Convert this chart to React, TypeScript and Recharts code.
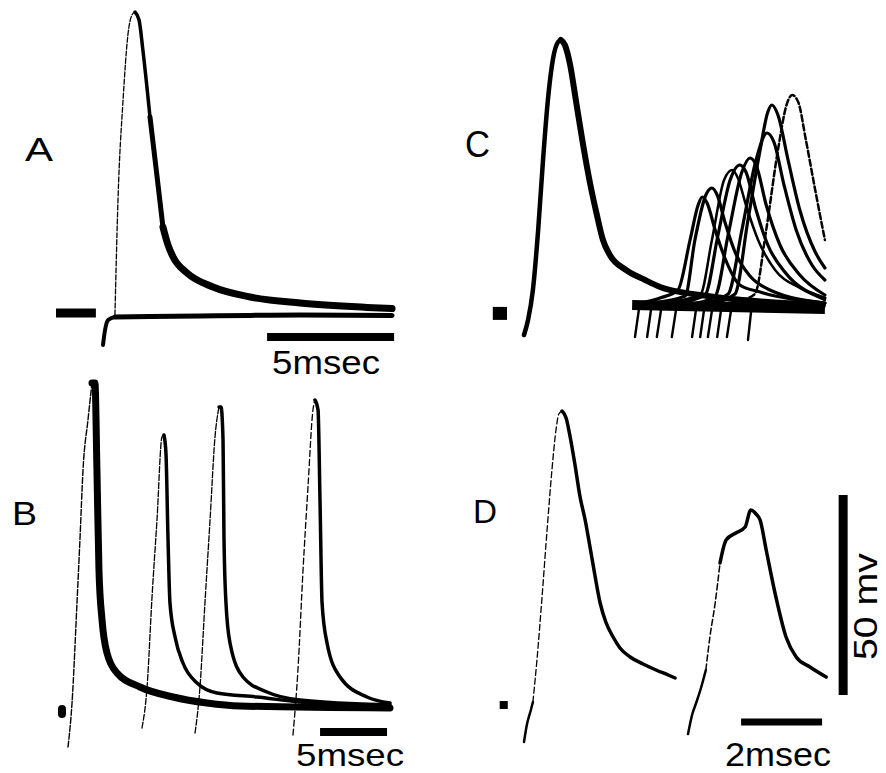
import React from 'react';
import { LineChart, Line, XAxis, YAxis } from 'recharts';

// ---------- DATA (t in msec, v in mV relative to resting level) ----------
// Panel A
const aPreStim = [[-1.85, 0], [-0.28, 0]];
const aArtifact = [[0, -8], [0.08, -4.25], [0.2, -1.75], [0.47, -1]];
const aSubthreshold = [[0.47, -1], [1.85, -0.9], [3.82, -0.75], [5.79, -0.6], [7.76, -0.5], [11.38, -0.6]];
const aSpikeRise = [[0.47, -0.5], [0.59, 28.25], [0.79, 53.25], [0.98, 69.5], [1.14, 74.5], [1.26, 75.25]];
const aSpikeDecay = [[1.26, 75.25], [1.42, 73.25], [1.57, 65.75], [1.85, 49]];
const aSpikeDecay2 = [[1.85, 49], [2.13, 34], [2.36, 21.5]];
const aSpikeTail = [[2.36, 21.5], [2.56, 17], [2.76, 14], [3.31, 10], [4.33, 6.5], [5.79, 4], [7.76, 2.5], [10.39, 1.4], [11.38, 1.1]];
const aScaleBar = [[6.46, -6], [11.46, -6]];

// Panel B
const bDot = [[-0.45, -0.5], [-0.45, -1.75]];
const b1Rise = [[0, -10], [0.3, 1], [0.67, 26], [0.9, 42.5], [1.12, 59.25], [1.49, 71.75], [1.79, 81]];
const b1Decay = [[1.79, 81], [2.01, 81], [2.16, 59.25], [2.31, 34.25], [2.54, 21.75], [2.91, 13.5], [3.66, 8.5], [5.37, 5], [7.84, 2.5], [10.37, 1], [12.84, 0.25], [24.03, -0.25]];
const b2Rise = [[5.52, -5.25], [5.9, 5], [6.27, 27.5], [6.64, 46.75], [7.01, 67.5], [7.16, 68]];
const b2Decay = [[7.16, 68], [7.31, 63.5], [7.46, 42.5], [7.61, 26], [7.99, 17.5], [8.58, 11], [9.63, 6], [11.12, 3.5], [14.1, 2.5], [17.31, 1.25], [24.03, 0.25]];
const b3Rise = [[9.48, -6.5], [9.85, 5], [10.22, 26], [10.6, 46.75], [10.97, 67.5], [11.27, 75]];
const b3Decay = [[11.27, 75], [11.42, 75], [11.57, 66.75], [11.64, 42.5], [11.79, 26], [12.09, 16], [13.06, 7.5], [14.85, 3.75], [17.31, 1.75], [24.03, 0.5]];
const b4Rise = [[16.79, -7], [17.16, 9.25], [17.54, 34.25], [17.91, 55], [18.28, 74.25], [18.43, 76.75]];
const b4Decay = [[18.43, 76.75], [18.66, 74.25], [18.81, 51], [18.96, 26], [19.33, 16], [20.3, 7.5], [22.31, 2.5], [24.03, 1]];
const bScaleBar = [[18.81, -6.25], [23.81, -6.25]];

// Panel C
const cDot = [[-0.77, -2.6], [-0.42, -2.6]];
const cMainRise = [[0, -8], [0.1, -4.25], [0.22, 3.25], [0.35, 18.25], [0.47, 35.75], [0.59, 50.75], [0.72, 61.25], [0.84, 65.25], [0.91, 65.75]];
const cMainDecay = [[0.91, 65.75], [1.01, 64.5], [1.14, 59.5], [1.28, 50.75], [1.46, 39.5], [1.63, 30], [1.8, 22], [1.95, 15.75], [2.12, 12], [2.52, 8.25], [2.99, 5.75], [3.36, 4], [4.35, 2], [5.41, 0.75], [7.38, -0.5]];
const cBaseline = [[2.67, -0.5], [7.43, -1.5]];
const cSpike1 = [[2.74, -8.5], [2.86, 0], [3.36, 1.25], [3.8, 3.25], [4.1, 15.75], [4.3, 24.5], [4.4, 26.5], [4.52, 25], [4.72, 18.25], [4.96, 11.25], [5.33, 4.5], [5.83, 2.75], [7.43, 0]];
const cSpike2 = [[3.04, -8.5], [3.16, 0], [3.98, 1.75], [4.22, 15.75], [4.49, 27], [4.64, 28.75], [4.77, 27], [4.96, 20.25], [5.21, 12.75], [5.58, 6.75], [6.07, 3.25], [7.43, 0]];
const cSpike3 = [[3.28, -8.5], [3.41, 0], [4.35, 2], [4.64, 15.75], [4.94, 30.75], [5.14, 33.25], [5.28, 31.25], [5.48, 24.5], [5.78, 15.75], [6.2, 8.25], [6.81, 3.75], [7.43, 0.75]];
const cSpike4 = [[3.65, -8.5], [3.78, 0], [4.47, 2], [4.79, 17], [5.09, 30.75], [5.33, 34.5], [5.48, 32.75], [5.73, 23.25], [6.02, 14.5], [6.44, 7.75], [7.43, 1.25]];
const cSpike5 = [[4.15, -8.5], [4.27, 0], [4.72, 1.75], [5.04, 17], [5.38, 32.75], [5.58, 36.25], [5.73, 34.5], [5.98, 24.5], [6.32, 14.5], [6.81, 7], [7.43, 2]];
const cSpike6 = [[4.35, -8.5], [4.47, 0], [5.04, 2.25], [5.38, 18.25], [5.73, 35.75], [6.0, 42.5], [6.17, 40.25], [6.42, 29.5], [6.72, 18.25], [7.11, 9.5], [7.43, 5.75]];
const cSpike7 = [[4.54, -8.5], [4.67, 0], [5.21, 2.25], [5.53, 20.75], [5.83, 38.25], [6.02, 47.75], [6.12, 49.5], [6.27, 47], [6.52, 35.75], [6.81, 23.25], [7.19, 12.75], [7.43, 8.75]];
const cSpike8 = [[5.01, -8.5], [5.14, 0], [5.7, 2.25], [5.98, 18.25], [6.27, 38.25], [6.49, 49.75], [6.62, 52], [6.77, 50.25], [6.96, 40.75], [7.19, 28.25], [7.43, 15.75]];
const cArtifact9 = [[4.77, -8.5], [4.89, 0]];
const cArtifact10 = [[5.53, -9.25], [5.63, 0]];

// Panel D
const dDot = [[-0.6, 0], [-0.4, 0]];
const d1Foot = [[0, -9.25], [0.07, -5], [0.17, -1.25], [0.22, 0.75]];
const d1Rise = [[0.22, 0.75], [0.32, 11.25], [0.44, 26.25], [0.57, 43.75], [0.69, 58.75], [0.79, 68.75], [0.86, 72.75], [0.94, 73.5]];
const d1Decay = [[0.94, 73.5], [1.04, 71.75], [1.14, 67], [1.26, 60], [1.38, 52.25], [1.51, 46.25], [1.63, 39.5], [1.75, 32.5], [1.88, 25.5], [2.02, 20.75], [2.2, 17], [2.37, 14.25], [2.62, 12], [2.94, 10.25], [3.26, 8.75], [3.56, 7.5], [3.73, 6.75]];
const d2Foot = [[4.05, -7.25], [4.15, -2.5], [4.25, 0.5], [4.37, 4.25], [4.49, 8.75]];
const d2Rise = [[4.49, 8.75], [4.59, 17], [4.72, 25.5], [4.84, 35.5]];
const d2Decay = [[4.84, 35.5], [4.99, 41.25], [5.23, 43], [5.46, 44.5], [5.6, 48.75], [5.73, 47.75], [5.83, 46.25], [5.98, 38.75], [6.22, 27], [6.47, 17], [6.72, 12], [7.06, 9.5], [7.46, 7]];
const dScaleV = [[7.88, 2.5], [7.88, 52.5]];
const dScaleH = [[5.36, -4.25], [7.36, -4.25]];

// Text labels
const panelLabels = ['A', 'B', 'C', 'D'];
const timeLabels = ['5msec', '5msec', '2msec'];
const voltLabel = '50 mv';

// ---------- RENDERING ----------
type Seg = { d: number[][]; w: number; dash?: string; cap?: 'round' | 'butt' | 'square'; lin?: boolean };
const toPts = (a: number[][]) => a.map(([t, v]) => ({ t, v }));

function Panel(props: {
  left: number; top: number; width: number; height: number;
  x: [number, number]; y: [number, number]; segs: Seg[];
}) {
  const { left, top, width, height, x, y, segs } = props;
  return (
    <div style={{ position: 'absolute', left, top }}>
      <LineChart width={width} height={height} margin={{ top: 0, right: 0, bottom: 0, left: 0 }}>
        <XAxis type="number" dataKey="t" domain={x} hide allowDataOverflow />
        <YAxis type="number" dataKey="v" domain={y} hide allowDataOverflow />
        {segs.map((s, i) => (
          <Line
            key={i}
            data={toPts(s.d)}
            dataKey="v"
            type={s.lin ? 'linear' : 'monotone'}
            stroke="#000"
            strokeWidth={s.w}
            strokeDasharray={s.dash}
            strokeLinecap={s.cap || 'round'}
            strokeLinejoin="round"
            dot={false}
            activeDot={false}
            isAnimationActive={false}
          />
        ))}
      </LineChart>
    </div>
  );
}

const font = '"Liberation Sans", Arial, sans-serif';

export default function App() {
  const segsA: Seg[] = [
    { d: aPreStim, w: 9, cap: 'butt', lin: true },
    { d: aArtifact, w: 4 },
    { d: aSubthreshold, w: 5 },
    { d: aSpikeRise, w: 1.3, dash: '5 2' },
    { d: aSpikeDecay, w: 3.5 },
    { d: aSpikeDecay2, w: 5 },
    { d: aSpikeTail, w: 7 },
    { d: aScaleBar, w: 8, cap: 'butt', lin: true },
  ];
  const segsB: Seg[] = [
    { d: bDot, w: 8, lin: true },
    { d: b1Rise, w: 1.4, dash: '6 2' },
    { d: b1Decay, w: 7 },
    { d: b2Rise, w: 1.3, dash: '6 2' },
    { d: b2Decay, w: 3.5 },
    { d: b3Rise, w: 1.3, dash: '6 2' },
    { d: b3Decay, w: 3.5 },
    { d: b4Rise, w: 1.3, dash: '6 3' },
    { d: b4Decay, w: 3.5 },
    { d: bScaleBar, w: 8, cap: 'butt', lin: true },
  ];
  const cSmall = [cSpike1, cSpike2, cSpike3, cSpike4, cSpike5, cSpike6, cSpike7, cSpike8];
  const segsC: Seg[] = [
    { d: cDot, w: 13, cap: 'butt', lin: true },
    { d: cMainRise, w: 4.5 },
    { d: cMainDecay, w: 6 },
    { d: cBaseline, w: 10, cap: 'butt', lin: true },
    ...cSmall.map((s) => ({ d: s.slice(0, 2), w: 2.4, lin: true } as Seg)),
    ...cSmall.map((s, i) => ({ d: s.slice(1), w: i === 7 || i === 2 ? 2.5 : 3.2, dash: i === 7 ? '6 3' : undefined } as Seg)),
    { d: cArtifact9, w: 2.4, lin: true },
    { d: cArtifact10, w: 2.4, lin: true },
  ];
  const segsD: Seg[] = [
    { d: dDot, w: 8, cap: 'butt', lin: true },
    { d: d1Foot, w: 2.5 },
    { d: d1Rise, w: 1.3, dash: '6 3' },
    { d: d1Decay, w: 3.5 },
    { d: d2Foot, w: 2.5 },
    { d: d2Rise, w: 1.5, dash: '6 3' },
    { d: d2Decay, w: 3.5 },
    { d: dScaleV, w: 9, cap: 'butt', lin: true },
    { d: dScaleH, w: 7, cap: 'butt', lin: true },
  ];

  return (
    <div style={{ position: 'absolute', left: 0, top: 0, width: 886, height: 773, background: '#fff', overflow: 'hidden' }}>
      <Panel left={0} top={0} width={420} height={360} x={[-4.055, 12.48]} y={[-11.75, 78.25]} segs={segsA} />
      <Panel left={0} top={370} width={420} height={400} x={[-5.075, 26.269]} y={[-15.75, 84.25]} segs={segsB} />
      <Panel left={470} top={0} width={390} height={360} x={[-1.333, 8.296]} y={[-14.25, 75.75]} segs={segsC} />
      <Panel left={470} top={380} width={416} height={390} x={[-1.333, 8.938]} y={[-16.25, 81.25]} segs={segsD} />
      <svg width={886} height={773} style={{ position: 'absolute', left: 0, top: 0, pointerEvents: 'none' }}>
        <g fontFamily={font} fill="#000">
          <text x={25} y={161} fontSize={34} textLength={28} lengthAdjust="spacingAndGlyphs">{panelLabels[0]}</text>
          <text x={12} y={525} fontSize={34} textLength={25} lengthAdjust="spacingAndGlyphs">{panelLabels[1]}</text>
          <text x={465} y={157} fontSize={36} textLength={25} lengthAdjust="spacingAndGlyphs">{panelLabels[2]}</text>
          <text x={473} y={523} fontSize={34} textLength={24} lengthAdjust="spacingAndGlyphs">{panelLabels[3]}</text>
          <text x={272} y={374} fontSize={34} textLength={108} lengthAdjust="spacingAndGlyphs">{timeLabels[0]}</text>
          <text x={296} y={766} fontSize={32} textLength={108} lengthAdjust="spacingAndGlyphs">{timeLabels[1]}</text>
          <text x={725} y={766} fontSize={33} textLength={106} lengthAdjust="spacingAndGlyphs">{timeLabels[2]}</text>
          <text transform="translate(877,660) rotate(-90)" fontSize={34} textLength={107} lengthAdjust="spacingAndGlyphs">{voltLabel}</text>
        </g>
      </svg>
    </div>
  );
}
